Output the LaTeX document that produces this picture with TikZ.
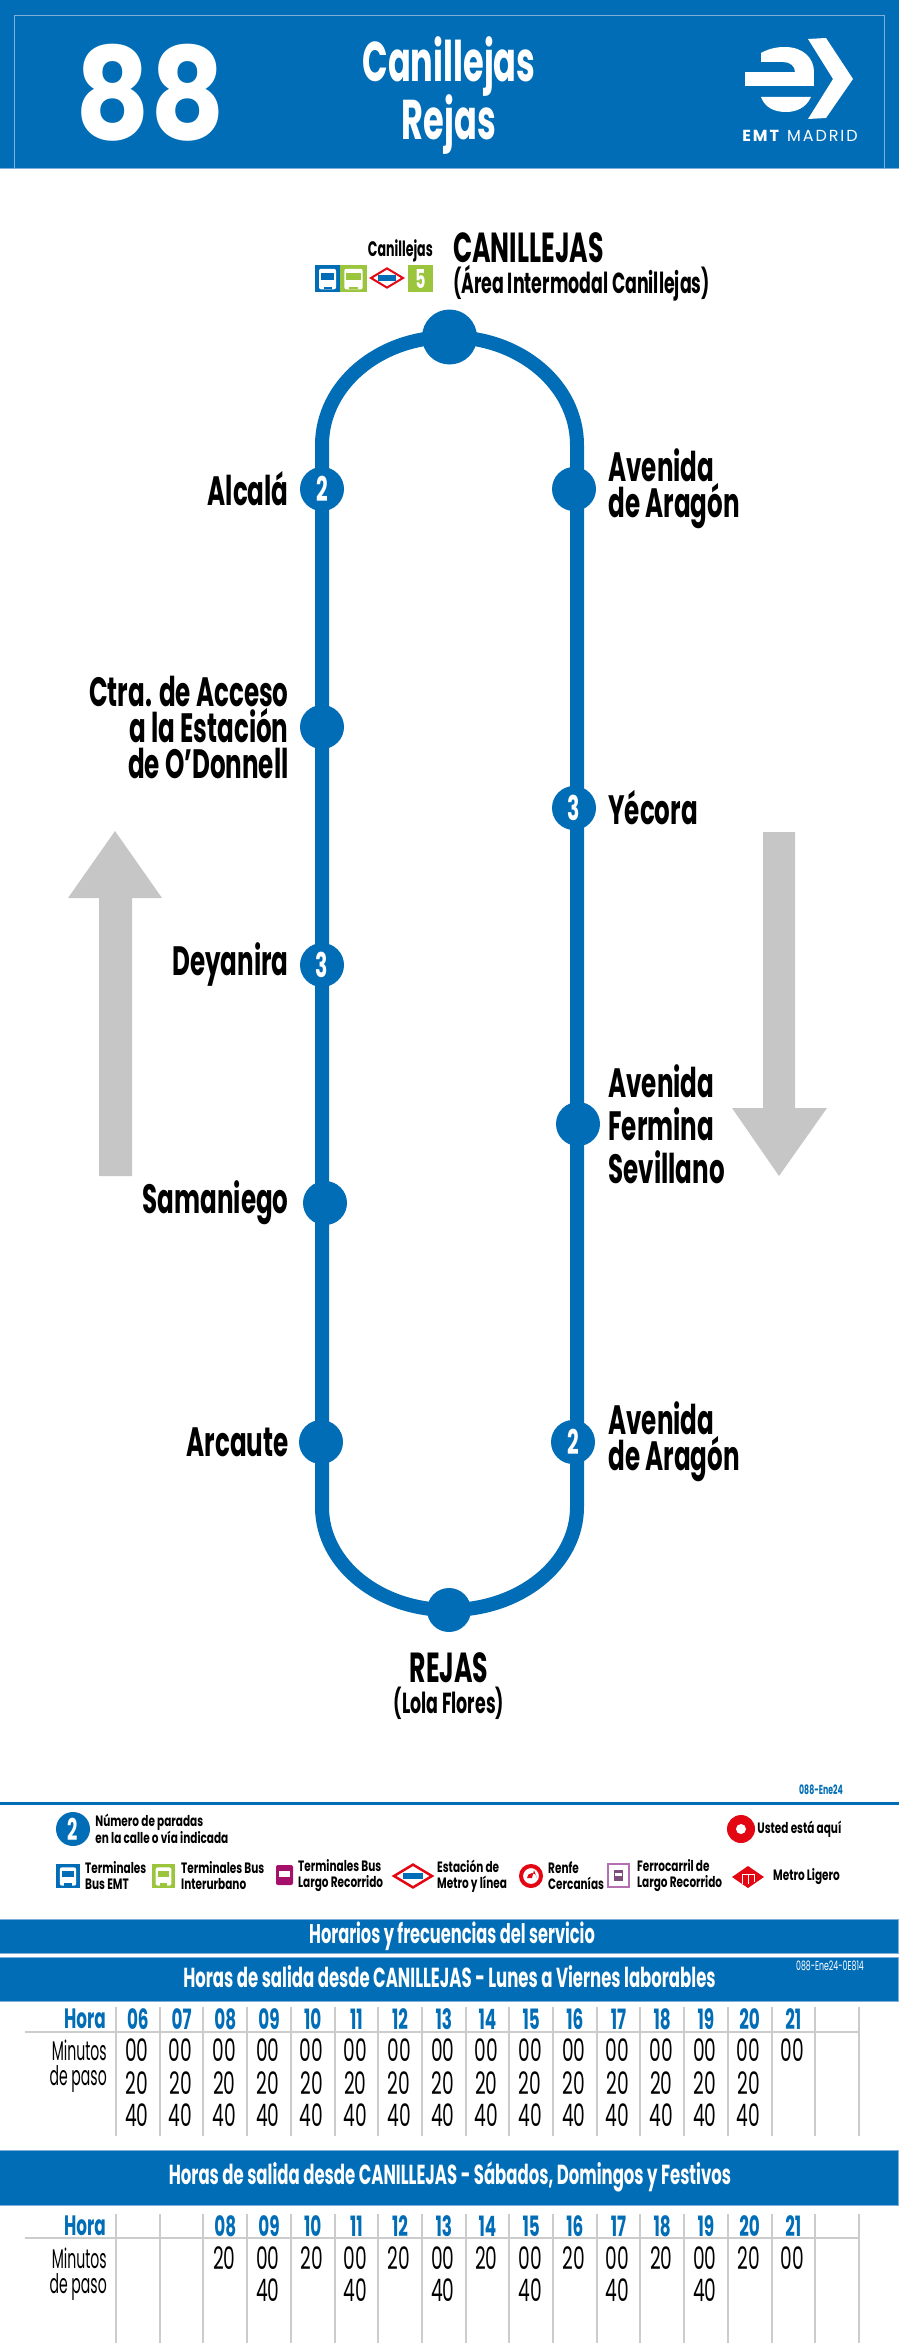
\documentclass[tikz,border=0pt]{standalone}
\usepackage{fontspec}
\usepackage{tikz}
\usetikzlibrary{positioning,calc}
\newfontfamily\routefont[FakeStretch=0.6]{Poppins}
\newfontfamily\legendfont[FakeStretch=0.7]{Poppins}
\newfontfamily\narrowfont[FakeStretch=0.52]{Poppins}
\newfontfamily\numberfont[FakeStretch=0.9]{Poppins}
\newfontfamily\logofont[LetterSpace=12]{Poppins}
\definecolor{emtblue}{HTML}{006DB6}
\definecolor{edgeblue}{HTML}{7FAEDB}
\definecolor{arrowgray}{HTML}{C6C6C6}
\definecolor{gridgray}{HTML}{CCCCCC}
\definecolor{busgreen}{HTML}{9BC53D}
\definecolor{longpurple}{HTML}{A5106B}
\definecolor{trainpurple}{HTML}{B36FB0}
\definecolor{signred}{HTML}{E30613}
\pgfdeclarelayer{routelayer}
\pgfsetlayers{routelayer,main}
\newcommand{\busicon}[5]{
\fill[#5] (#1,#2) rectangle ++(#3,#4);
\fill[white,rounded corners=2pt] ($(#1,#2)+(.16*#3,.14*#4)$) rectangle ($(#1,#2)+(.84*#3,.9*#4)$);
\fill[#5] ($(#1,#2)+(.24*#3,.3*#4)$) rectangle ($(#1,#2)+(.76*#3,.54*#4)$);
\fill[#5] ($(#1,#2)+(.34*#3,.8*#4)$) rectangle ($(#1,#2)+(.66*#3,.9*#4)$);
}
\newcommand{\metroicon}[4]{
\fill[white,draw=signred,line width=#4] (#1-#3,#2) -- (#1,#2-#3*.6) -- (#1+#3,#2) -- (#1,#2+#3*.6) -- cycle;
\fill[emtblue] (#1-#3*.55,#2-#3*.17) rectangle (#1+#3*.55,#2+#3*.17);
}

\begin{document}
\begin{tikzpicture}[x=1pt,y=-1pt,
stopnode/.style={circle, fill=emtblue, text=white, minimum size=44pt, inner sep=0pt, font=\routefont\bfseries\fontsize{34}{34}\selectfont},
placeleft/.style={align=right, inner sep=0pt, font=\routefont\bfseries\fontsize{41}{36}\selectfont},
placeright/.style={align=left, inner sep=0pt, font=\routefont\bfseries\fontsize{41}{36}\selectfont},
endtitle/.style={inner sep=0pt, font=\routefont\bfseries\fontsize{42}{42}\selectfont},
endsub/.style={inner sep=0pt, font=\routefont\bfseries\fontsize{29}{29}\selectfont},
legendtext/.style={align=left, inner sep=0pt, anchor=west, font=\legendfont\bfseries\fontsize{15}{16}\selectfont},
bannerbar/.style={fill=emtblue, draw=edgeblue, thin},
bannertext/.style={text=white, inner sep=0pt, font=\routefont\bfseries\fontsize{27.5}{27.5}\selectfont},
hournode/.style={text=emtblue, inner sep=0pt, font=\routefont\bfseries\fontsize{28}{28}\selectfont},
minutenode/.style={inner sep=0pt, font=\routefont\fontsize{31}{31}\selectfont},
pasotext/.style={align=right, inner sep=0pt, anchor=east, font=\narrowfont\fontsize{27}{25}\selectfont},
gridline/.style={gridgray, line width=2pt},
routeline/.style={emtblue, line width=14pt},
]
\useasboundingbox (0,0) rectangle (899,2344);

%Header
\fill[emtblue] (0,0) rectangle (899,168);
\draw[edgeblue] (14,168) -- (14,15) -- (884,15) -- (884,168);
\draw[edgeblue,line width=1.5pt] (0,168.5) -- (899,168.5);
\node[inner sep=0pt,text=white,font=\numberfont\bfseries\fontsize{128}{128}\selectfont](linenumber) at (150,93){88};
\node[inner sep=0pt,text=white,font=\routefont\bfseries\fontsize{56}{60}\selectfont](headerone) at (449,67){Canillejas};
\node[inner sep=0pt,text=white,font=\routefont\bfseries\fontsize{56}{60}\selectfont](headertwo)[below=-3pt of headerone]{Rejas};
\fill[white] (808,39) -- (826,38) -- (853,79) -- (826,118) -- (808,119) -- (833,79) -- cycle;
\fill[white] (745,72) rectangle (814,86);
\fill[white] (761,53) .. controls (770,48) and (778,47) .. (785,47) .. controls (803,47) and (814,58) .. (814,72) -- (795,72) .. controls (795,66) and (790,62) .. (783,62) -- (761,62) -- cycle;
\fill[white] (761,97) -- (811,97) .. controls (806,108) and (796,112) .. (786,112) .. controls (775,112) and (765,108) .. (761,97) -- cycle;
\node[inner sep=0pt,text=white,font=\logofont\fontsize{16}{16}\selectfont](logotext) at (800,136){\textbf{EMT} MADRID};

%Arrows
\fill[arrowgray] (115,831) -- (162,898) -- (132,898) -- (132,1176) -- (99,1176) -- (99,898) -- (68,898) -- cycle;
\fill[arrowgray] (779,1176) -- (827,1108) -- (795,1108) -- (795,832) -- (763,832) -- (763,1108) -- (732,1108) -- cycle;

%Nodes
\node[stopnode,minimum size=55pt](canillejas) at (449.5,337){};
\node[stopnode](alcala) at (322,489){2};
\node[stopnode](acceso) at (322,727){};
\node[stopnode](deyanira) at (322,965){3};
\node[stopnode](samaniego) at (325,1203){};
\node[stopnode](arcaute) at (321,1442){};
\node[stopnode](rejas) at (449,1610){};
\node[stopnode](aragonsouth) at (573,1442){2};
\node[stopnode](fermina) at (578,1124){};
\node[stopnode](yecora) at (574,808){3};
\node[stopnode](aragonnorth) at (574,489){};

%Route
\coordinate(leftupper) at (322,445);
\coordinate(leftlower) at (322,1507);
\coordinate(rightlower) at (577,1507);
\coordinate(rightupper) at (577,445);
\begin{pgfonlayer}{routelayer}
\draw[routeline] (canillejas.center) .. controls (379,337) and (322,385) .. (leftupper) -- (leftlower) .. controls (322,1564) and (379,1610) .. (rejas.center) .. controls (520,1610) and (577,1564) .. (rightlower) -- (rightupper) .. controls (577,385) and (520,337) .. (canillejas.center);
\end{pgfonlayer}

\node[placeleft](alcalatext)[left=11pt of alcala]{Alcalá};
\node[placeleft](accesotext)[left=11pt of acceso]{Ctra. de Acceso\\a la Estación\\de O’Donnell};
\node[placeleft](deyaniratext)[left=11pt of deyanira]{Deyanira};
\node[placeleft](samaniegotext)[left=14pt of samaniego]{Samaniego};
\node[placeleft](arcautetext)[left=10pt of arcaute]{Arcaute};
\node[placeright](aragonnorthtext)[right=12pt of aragonnorth]{Avenida\\de Aragón};
\node[placeright](yecoratext)[right=12pt of yecora]{Yécora};
\node[placeright,font=\routefont\bfseries\fontsize{41}{43}\selectfont](ferminatext)[right=8pt of fermina]{Avenida\\Fermina\\Sevillano};
\node[placeright](aragonsouthtext)[right=13pt of aragonsouth]{Avenida\\de Aragón};
\node[endtitle](rejastext)[below=20pt of rejas]{REJAS};
\node[endsub](rejassub)[below=4pt of rejastext]{(Lola Flores)};
\node[endtitle,anchor=west](canillejastext) at (453,248){CANILLEJAS};
\node[endsub,anchor=west](canillejassub) at (453,283){(Área Intermodal Canillejas)};
\node[inner sep=0pt,anchor=east,font=\routefont\bfseries\fontsize{21}{21}\selectfont](canillejasstop) at (433,251){Canillejas};

%Icons at the terminus
\busicon{315}{265}{25}{27}{emtblue}
\busicon{340}{265}{27}{27}{busgreen}
\metroicon{387}{278}{16}{2pt}
\fill[busgreen] (408,265) rectangle (433,292);
\node[inner sep=0pt,text=white,font=\routefont\bfseries\fontsize{26}{26}\selectfont](metroline) at (420.5,278.5){5};

%Legend
\node[inner sep=0pt,text=emtblue,font=\routefont\bfseries\fontsize{13}{13}\selectfont](edition) at (821,1790){088-Ene24};
\draw[emtblue,line width=3pt] (0,1803) -- (899,1803);
\node[stopnode,minimum size=34pt,font=\routefont\bfseries\fontsize{30}{30}\selectfont](legendstops) at (73,1829){2};
\node[legendtext](legendstopstext)[right=5pt of legendstops]{Número de paradas\\en la calle o vía indicada};
\node[circle,fill=signred,minimum size=28pt,inner sep=0pt](herered) at (741,1829){};
\node[circle,fill=white,minimum size=10pt,inner sep=0pt](herewhite) at (741,1829){};
\node[legendtext](heretext)[right=2pt of herered]{Usted está aquí};
\busicon{56}{1864}{24}{24}{emtblue}
\node[legendtext](emttext) at (85,1876){Terminales\\Bus EMT};
\busicon{152}{1864}{23}{24}{busgreen}
\node[legendtext](greentext) at (181,1876){Terminales Bus\\Interurbano};
\fill[longpurple,rounded corners=2pt] (276,1865) rectangle (293,1885);
\fill[white] (279,1871) rectangle (290,1877);
\node[legendtext](purpletext) at (298,1876){Terminales Bus\\Largo Recorrido};
\metroicon{413}{1876}{19}{2.5pt}
\node[legendtext](metrotext) at (437,1876){Estación de\\Metro y línea};
\node[circle,draw=signred,line width=4pt,minimum size=20pt,inner sep=0pt](renfeicon) at (531,1876){};
\fill[signred] (527,1878) arc[start angle=180,end angle=360,radius=5] -- (534,1870) -- (532,1878) -- cycle;
\node[legendtext](renfetext) at (548,1876){Renfe\\Cercanías};
\draw[trainpurple,line width=1.5pt] (608,1864) rectangle (629,1887);
\fill[trainpurple!70!black] (614,1870) rectangle (623,1881);
\fill[white] (615,1873) rectangle (622,1876);
\node[legendtext](traintext) at (637,1876){Ferrocarril de\\Largo Recorrido};
\fill[signred] (732,1877) -- (748,1866) -- (764,1877) -- (748,1888) -- cycle;
\draw[white,line width=1pt] (742,1884) -- (742,1874) -- (754,1874) -- (754,1882) (748,1874) -- (748,1884);
\node[legendtext](lighttext) at (773,1877){Metro Ligero};

%Banners
\draw[bannerbar] (-1,1919) rectangle (898,1953);
\node[bannertext,font=\routefont\bfseries\fontsize{27}{27}\selectfont](servicetext) at (452,1936){Horarios y frecuencias del servicio};
\draw[bannerbar] (-1,1957) rectangle (898,2001);
\node[bannertext](weektext) at (449.5,1977){Horas de salida desde CANILLEJAS - Lunes a Viernes laborables};
\node[inner sep=0pt,text=white,font=\routefont\fontsize{13}{13}\selectfont](weekcode) at (830,1966){088-Ene24-0E814};
\draw[bannerbar] (-1,2150) rectangle (898,2205);
\node[bannertext](festivetext) at (450,2177){Horas de salida desde CANILLEJAS - Sábados, Domingos y Festivos};

%Weekday table
\foreach \i in {0,...,17}
  \draw[gridline] ({116+43.7*\i},2007) -- ({116+43.7*\i},2136);
\draw[gridline] (25,2032) -- (859,2032);
\node[hournode](weekhora) at (85,2019){Hora};
\node[pasotext](weekpaso) at (107,2066){Minutos\\de paso};
\foreach \h [count=\i from 1] in {06,07,08,09,10,11,12,13,14,15,16,17,18,19,20,21}
  \node[hournode](weekh\i) at ({116+43.7*(\i-.5)},2019){\h};
\foreach \i in {1,...,15}
  \foreach \m/\y in {00/2050,20/2083,40/2115}
    \node[minutenode](weekm\i\m) at ({116+43.7*(\i-.5)-1},\y){\m};
\node[minutenode](weekm16last) at ({116+43.7*15.5-1},2050){00};

%Festive table
\foreach \i in {0,...,17}
  \draw[gridline] ({116+43.7*\i},2214) -- ({116+43.7*\i},2343);
\draw[gridline] (25,2238) -- (859,2238);
\node[hournode](festhora) at (85,2226){Hora};
\node[pasotext](festpaso) at (107,2274){Minutos\\de paso};
\foreach \h [count=\i from 3] in {08,09,10,11,12,13,14,15,16,17,18,19,20,21}
  \node[hournode](festh\i) at ({116+43.7*(\i-.5)},2226){\h};
\foreach \i in {3,5,...,15}
  \node[minutenode](festm\i) at ({116+43.7*(\i-.5)-1},2258){20};
\foreach \i in {4,6,...,14}{
  \node[minutenode](festa\i) at ({116+43.7*(\i-.5)-1},2258){00};
  \node[minutenode](festb\i) at ({116+43.7*(\i-.5)-1},2290){40};
}
\node[minutenode](festlast) at ({116+43.7*15.5-1},2258){00};
\end{tikzpicture}
\end{document}
